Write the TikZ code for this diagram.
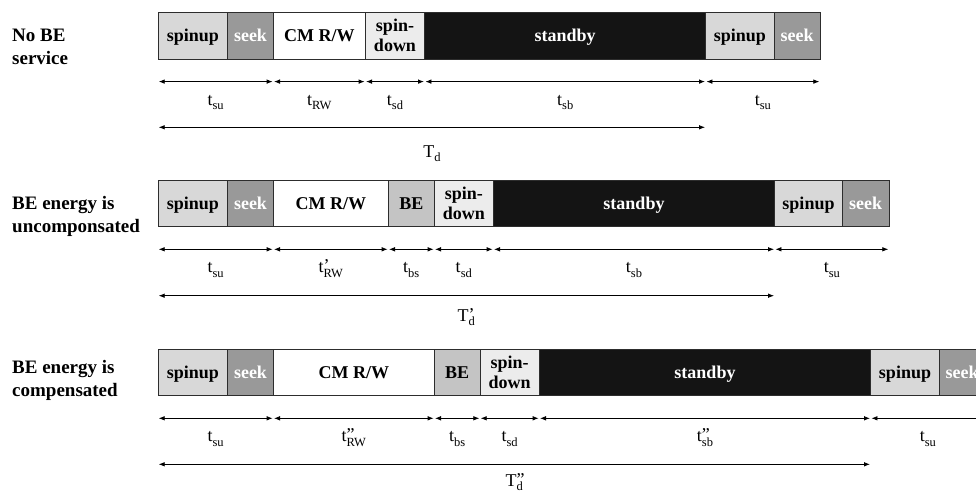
\documentclass[tikz,border=0pt]{standalone}
\usepackage{fontspec}
\setmainfont{Liberation Serif}
\usetikzlibrary{arrows.meta}

\definecolor{cEdge}{RGB}{45,45,45}
\definecolor{cSpin}{RGB}{216,216,216}
\definecolor{cSeek}{RGB}{153,153,153}
\definecolor{cDown}{RGB}{236,236,236}
\definecolor{cBE}{RGB}{196,196,196}
\definecolor{cSby}{RGB}{20,20,20}

% subscript and a prime set above it
\newcommand\lsub[1]{{\fontsize{12.5}{12.5}\selectfont\raisebox{-4.5pt}{#1}}}
\newcommand\ptop[1]{\rlap{\raisebox{1pt}{#1}}}

% one block of a timeline: name, x1, x2, y1, y2, style, text
\newcommand\blk[7]{%
  \node[seg,#6,minimum width={#3-#2},minimum height={#5-#4}]
    (#1) at ({(#2+#3)/2},{(#4+#5)/2}) {#7};}

\begin{document}
\begin{tikzpicture}[x=1pt,y=-1pt,
  seg/.style={draw=cEdge,line width=0.8pt,inner sep=0pt,outer sep=0pt,
    font=\fontsize{18}{20}\selectfont\bfseries,align=center},
  oneline/.style={text height=15pt,text depth=3pt},
  spinbox/.style={oneline,fill=cSpin},
  seekbox/.style={oneline,fill=cSeek,text=white},
  rwbox/.style={oneline,fill=white},
  downbox/.style={fill=cDown},
  sbybox/.style={oneline,fill=cSby,text=white},
  bebox/.style={oneline,fill=cBE},
  dim/.style={{Latex[length=6pt,width=4.6pt]}-{Latex[length=6pt,width=4.6pt]},
    line width=0.8pt,shorten <=0.7pt,shorten >=0.7pt},
  lab/.style={font=\fontsize{18}{18}\selectfont,anchor=base,inner sep=0pt,yshift=-23.5pt},
  biglab/.style={font=\fontsize{18}{18}\selectfont,anchor=base,inner sep=0pt},
  rowlab/.style={font=\fontsize{19}{22.5}\selectfont\bfseries,align=left,anchor=west,inner sep=0pt}
]
\useasboundingbox (0,0) rectangle (976,492);

% ---------- no BE service ----------
\node[rowlab] (h1) at (12,47) {No BE\\service};
\blk{a1}{158}{227.7}{12}{59}{spinbox}{spinup}
\blk{b1}{227.7}{273.3}{12}{59}{seekbox}{seek}
\blk{c1}{273.3}{365.3}{12}{59}{rwbox}{CM R/W}
\blk{d1}{365.3}{424.7}{12}{59}{downbox}{spin-\\down}
\blk{e1}{424.7}{705.7}{12}{59}{sbybox}{standby}
\blk{f1}{705.7}{774}{12}{59}{spinbox}{spinup}
\blk{g1}{774}{820}{12}{59}{seekbox}{seek}

\draw[dim] ([yshift=-22.6pt]a1.south west) -- ([yshift=-22.6pt]b1.south east)
  node[midway,lab] (la1) {t\lsub{su}};
\draw[dim] ([yshift=-22.6pt]c1.south west) -- ([yshift=-22.6pt]c1.south east)
  node[midway,lab] (lc1) {t\lsub{RW}};
\draw[dim] ([yshift=-22.6pt]d1.south west) -- ([yshift=-22.6pt]d1.south east)
  node[midway,lab] (ld1) {t\lsub{sd}};
\draw[dim] ([yshift=-22.6pt]e1.south west) -- ([yshift=-22.6pt]e1.south east)
  node[midway,lab] (le1) {t\lsub{sb}};
\draw[dim] ([yshift=-22.6pt]f1.south west) -- ([yshift=-22.6pt]g1.south east)
  node[midway,lab] (lf1) {t\lsub{su}};
\draw[dim] ([yshift=-68.3pt]a1.south west) -- ([yshift=-68.3pt]e1.south east);
\node[biglab] (T1) at (432,157) {T\lsub{d}};

% ---------- BE energy is uncomponsated ----------
\node[rowlab] (h2) at (12,216.5) {BE energy is\\uncomponsated};
\blk{a2}{158}{227.7}{180}{226.7}{spinbox}{spinup}
\blk{b2}{227.7}{273.3}{180}{226.7}{seekbox}{seek}
\blk{c2}{273.3}{388.3}{180}{226.7}{rwbox}{CM R/W}
\blk{x2}{388.3}{434.3}{180}{226.7}{bebox}{BE}
\blk{d2}{434.3}{493.3}{180}{226.7}{downbox}{spin-\\down}
\blk{e2}{493.3}{774.7}{180}{226.7}{sbybox}{standby}
\blk{f2}{774.7}{842.3}{180}{226.7}{spinbox}{spinup}
\blk{g2}{842.3}{889}{180}{226.7}{seekbox}{seek}

\draw[dim] ([yshift=-22.6pt]a2.south west) -- ([yshift=-22.6pt]b2.south east)
  node[midway,lab] (la2) {t\lsub{su}};
\draw[dim] ([yshift=-22.6pt]c2.south west) -- ([yshift=-22.6pt]c2.south east)
  node[midway,lab] (lc2) {t\ptop{’}\lsub{RW}};
\draw[dim] ([yshift=-22.6pt]x2.south west) -- ([yshift=-22.6pt]x2.south east)
  node[midway,lab] (lx2) {t\lsub{bs}};
\draw[dim] ([yshift=-22.6pt]d2.south west) -- ([yshift=-22.6pt]d2.south east)
  node[midway,lab] (ld2) {t\lsub{sd}};
\draw[dim] ([yshift=-22.6pt]e2.south west) -- ([yshift=-22.6pt]e2.south east)
  node[midway,lab] (le2) {t\lsub{sb}};
\draw[dim] ([yshift=-22.6pt]f2.south west) -- ([yshift=-22.6pt]g2.south east)
  node[midway,lab] (lf2) {t\lsub{su}};
\draw[dim] ([yshift=-69pt]a2.south west) -- ([yshift=-69pt]e2.south east);
\node[biglab] (T2) at (466.3,321) {T\ptop{’}\lsub{d}};

% ---------- BE energy is compensated ----------
\node[rowlab] (h3) at (12,380.5) {BE energy is\\compensated};
\blk{a3}{158}{227.7}{349.3}{395.7}{spinbox}{spinup}
\blk{b3}{227.7}{273.3}{349.3}{395.7}{seekbox}{seek}
\blk{c3}{273.3}{434.3}{349.3}{395.7}{rwbox}{CM R/W}
\blk{x3}{434.3}{480}{349.3}{395.7}{bebox}{BE}
\blk{d3}{480}{539.3}{349.3}{395.7}{downbox}{spin-\\down}
\blk{e3}{539.3}{870.7}{349.3}{395.7}{sbybox}{standby}
\blk{f3}{870.7}{939.3}{349.3}{395.7}{spinbox}{spinup}
\blk{g3}{939.3}{985}{349.3}{395.7}{seekbox}{seek}

\draw[dim] ([yshift=-22.6pt]a3.south west) -- ([yshift=-22.6pt]b3.south east)
  node[midway,lab] (la3) {t\lsub{su}};
\draw[dim] ([yshift=-22.6pt]c3.south west) -- ([yshift=-22.6pt]c3.south east)
  node[midway,lab] (lc3) {t\ptop{”}\lsub{RW}};
\draw[dim] ([yshift=-22.6pt]x3.south west) -- ([yshift=-22.6pt]x3.south east)
  node[midway,lab] (lx3) {t\lsub{bs}};
\draw[dim] ([yshift=-22.6pt]d3.south west) -- ([yshift=-22.6pt]d3.south east)
  node[midway,lab] (ld3) {t\lsub{sd}};
\draw[dim] ([yshift=-22.6pt]e3.south west) -- ([yshift=-22.6pt]e3.south east)
  node[midway,lab] (le3) {t\ptop{”}\lsub{sb}};
\draw[dim] ([yshift=-22.6pt]f3.south west) -- ([yshift=-22.6pt]g3.south east)
  node[midway,lab] (lf3) {t\lsub{su}};
\draw[dim] ([yshift=-68.6pt]a3.south west) -- ([yshift=-68.6pt]e3.south east);
\node[biglab] (T3) at (514.3,486) {T\ptop{”}\lsub{d}};
\end{tikzpicture}
\end{document}
